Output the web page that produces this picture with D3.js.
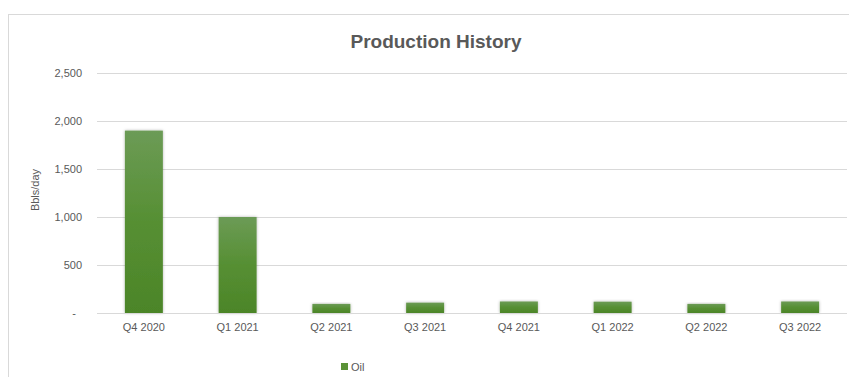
<!DOCTYPE html>
<html>
<head>
<meta charset="utf-8">
<script src="https://cdn.jsdelivr.net/npm/d3@7"></script>
<style>
  html, body { margin: 0; padding: 0; background: #fff; }
  svg { display: block; }
  text { font-family: "Liberation Sans Narrow", "Liberation Sans", Arial, sans-serif; }
</style>
</head>
<body>
<svg id="chart" width="849" height="377"></svg>
<script>
const categories = ["Q4 2020", "Q1 2021", "Q2 2021", "Q3 2021", "Q4 2021", "Q1 2022", "Q2 2022", "Q3 2022"];
const oilValues = [1900, 1000, 95, 108, 120, 118, 95, 120];
const yTicks = [0, 500, 1000, 1500, 2000, 2500];
const seriesName = "Oil";
const chartTitle = "Production History";
const yTitle = "Bbls/day";

const svg = d3.select("#chart");
const W = 849, H = 377;
const plot = { left: 97, right: 847, top: 73, bottom: 313 };

// frame
svg.append("rect")
  .attr("x", 8.5).attr("y", 14.5)
  .attr("width", W + 20).attr("height", H + 20)
  .attr("fill", "#fff").attr("stroke", "#d9d9d9").attr("stroke-width", 1);

const defs = svg.append("defs");
const grad = defs.append("linearGradient").attr("id", "barGrad")
  .attr("x1", 0).attr("y1", 0).attr("x2", 0).attr("y2", 1);
grad.append("stop").attr("offset", "0%").attr("stop-color", "#6c9b56");
grad.append("stop").attr("offset", "50%").attr("stop-color", "#568f33");
grad.append("stop").attr("offset", "100%").attr("stop-color", "#4c8528");

const shadow = defs.append("filter").attr("id", "shadow")
  .attr("x", "-20%").attr("y", "-20%").attr("width", "140%").attr("height", "140%");
shadow.append("feDropShadow").attr("dx", 0).attr("dy", 0)
  .attr("stdDeviation", 1.5).attr("flood-color", "#000").attr("flood-opacity", 0.3);

const x = d3.scaleBand().domain(categories)
  .range([plot.left, plot.right])
  .paddingInner(0.595).paddingOuter(0.2975);
const y = d3.scaleLinear().domain([0, 2500]).range([plot.bottom, plot.top]);

// gridlines
svg.append("g").selectAll("line").data(yTicks.filter(d => d > 0)).join("line")
  .attr("x1", plot.left).attr("x2", plot.right)
  .attr("y1", d => Math.round(y(d)) + 0.5).attr("y2", d => Math.round(y(d)) + 0.5)
  .attr("stroke", "#d9d9d9").attr("stroke-width", 1);

// y axis labels
const yAxis = d3.axisLeft(y).tickValues(yTicks).tickSize(0).tickPadding(0)
  .tickFormat(d => d === 0 ? "-" : d3.format(",")(d));
const yg = svg.append("g").attr("transform", `translate(${82},0)`).call(yAxis);
yg.select(".domain").remove();
yg.selectAll("text").attr("fill", "#595959").style("font-size", "11px")
  .attr("dx", d => d === 0 ? -6 : 0);

// bars
svg.append("g").selectAll("rect").data(oilValues).join("rect")
  .attr("x", (d, i) => x(categories[i]))
  .attr("y", d => y(d))
  .attr("width", x.bandwidth())
  .attr("height", d => plot.bottom - y(d))
  .attr("fill", "url(#barGrad)")
  .attr("filter", "url(#shadow)");

// baseline
svg.append("line")
  .attr("x1", plot.left).attr("x2", plot.right)
  .attr("y1", plot.bottom + 0.5).attr("y2", plot.bottom + 0.5)
  .attr("stroke", "#d9d9d9").attr("stroke-width", 1);

// x axis labels
const xAxis = d3.axisBottom(x).tickSize(0).tickPadding(0);
const xg = svg.append("g").attr("transform", `translate(0,${plot.bottom + 10})`).call(xAxis);
xg.select(".domain").remove();
xg.selectAll("text").attr("fill", "#595959").style("font-size", "11px");

// title
svg.append("text").attr("x", 436).attr("y", 48)
  .attr("text-anchor", "middle").attr("fill", "#595959")
  .style("font-size", "19px").style("font-weight", "bold")
  .text(chartTitle);

// y title
svg.append("text")
  .attr("transform", `translate(39,${190}) rotate(-90)`)
  .attr("text-anchor", "middle").attr("fill", "#595959")
  .style("font-size", "11px")
  .text(yTitle);

// legend
const lg = svg.append("g").attr("transform", "translate(341,363)");
lg.append("rect").attr("x", 0).attr("y", 0).attr("width", 7).attr("height", 7).attr("fill", "#5a9237");
lg.append("text").attr("x", 10).attr("y", 7.5).attr("fill", "#595959")
  .style("font-size", "11px").text(seriesName);
</script>
</body>
</html>
